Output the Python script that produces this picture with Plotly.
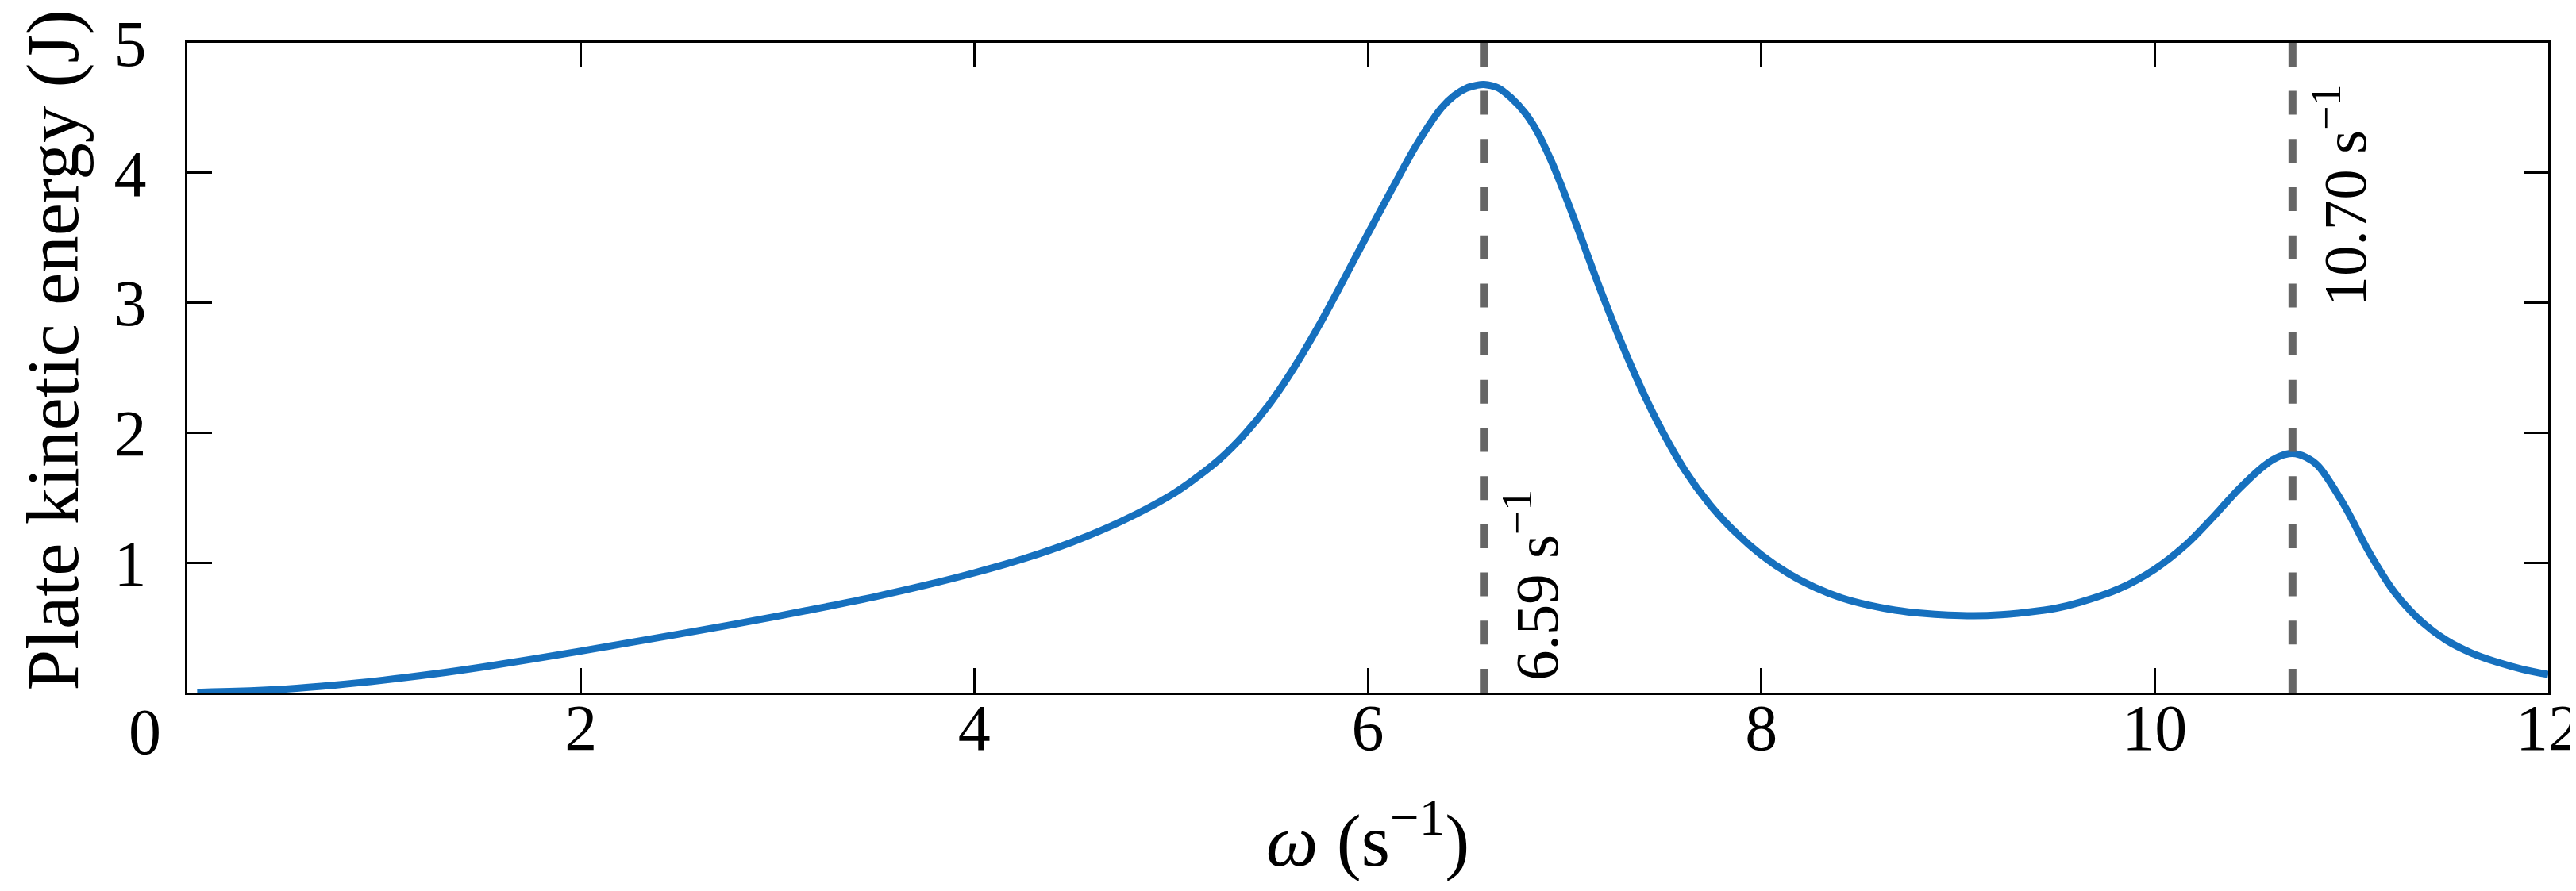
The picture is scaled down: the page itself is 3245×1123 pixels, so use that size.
import plotly.graph_objects as go

# ---- data ----
omega = [0.05, 0.25, 0.5, 0.75, 1.0, 1.25, 1.5, 1.75, 2.0, 2.25, 2.5, 2.75, 3.0,
         3.25, 3.5, 3.75, 4.0, 4.25, 4.5, 4.75, 5.0, 5.125, 5.25, 5.375, 5.5,
         5.625, 5.75, 5.875, 6.0, 6.125, 6.25, 6.375, 6.44, 6.5, 6.55, 6.59,
         6.66, 6.73, 6.80, 6.86, 6.93, 7.0, 7.07, 7.2, 7.34, 7.47, 7.61, 7.74,
         7.875, 8.0, 8.14, 8.28, 8.41, 8.55, 8.68, 8.82, 8.95, 9.08, 9.22, 9.35,
         9.5, 9.62, 9.82, 10.0, 10.16, 10.29, 10.43, 10.56, 10.63, 10.70, 10.77,
         10.83, 10.96, 11.09, 11.22, 11.35, 11.48, 11.61, 11.74, 11.87, 12.0]
energy = [0.003, 0.01, 0.028, 0.058, 0.097, 0.143, 0.197, 0.257, 0.32, 0.385,
          0.451, 0.518, 0.588, 0.662, 0.74, 0.826, 0.922, 1.03, 1.16, 1.32, 1.52,
          1.65, 1.80, 1.99, 2.22, 2.50, 2.82, 3.17, 3.53, 3.88, 4.22, 4.50,
          4.595, 4.65, 4.672, 4.68, 4.655, 4.575, 4.46, 4.32, 4.10, 3.84, 3.56,
          3.03, 2.51, 2.09, 1.715, 1.445, 1.225, 1.06, 0.915, 0.805, 0.728, 0.672,
          0.635, 0.61, 0.597, 0.592, 0.600, 0.618, 0.65, 0.695, 0.80, 0.95, 1.14,
          1.34, 1.57, 1.75, 1.815, 1.84, 1.81, 1.745, 1.45, 1.08, 0.77, 0.555,
          0.405, 0.305, 0.235, 0.18, 0.14]
peak_freqs = [6.59, 10.70]
x_ticks = [2, 4, 6, 8, 10, 12]
y_ticks = [1, 2, 3, 4, 5]
x_range = [0, 12]
y_range = [0, 5]

# ---- style ----
FONT = "Liberation Serif, Times New Roman, Times, serif"
TICK_SIZE = 82
TITLE_SIZE = 93
ANN_SIZE = 77
label_bottoms = [0.08, 2.96]   # where the rotated peak labels start (data units)

fig = go.Figure()

fig.add_trace(go.Scatter(
    x=omega, y=energy, mode="lines",
    line=dict(color="#1670BE", width=9, shape="spline", smoothing=1.0),
    showlegend=False, hoverinfo="skip"))

for f in peak_freqs:
    fig.add_trace(go.Scatter(
        x=[f, f], y=y_range, mode="lines",
        line=dict(color="#666666", width=10, dash="30px,30.7px"),
        showlegend=False, hoverinfo="skip"))

annotations = []
for f, yb in zip(peak_freqs, label_bottoms):
    annotations.append(dict(
        x=f, y=yb, xref="x", yref="y",
        text=f"{f:.2f} s<sup>\u22121</sup>",
        textangle=-90, showarrow=False,
        xanchor="left", yanchor="bottom", xshift=10,
        font=dict(family=FONT, size=ANN_SIZE, color="black")))

# the lone "0" label at the lower-left corner
annotations.append(dict(
    x=0, y=0, xref="paper", yref="paper", text="0", showarrow=False,
    xanchor="center", yanchor="middle", xshift=-54, yshift=-49,
    font=dict(family=FONT, size=TICK_SIZE, color="black")))

# y-axis title
annotations.append(dict(
    x=0, y=0.5, xref="paper", yref="paper", text="Plate kinetic energy (J)",
    textangle=-90, showarrow=False, xanchor="center", yanchor="middle",
    xshift=-170, yshift=22,
    font=dict(family=FONT, size=TITLE_SIZE, color="black")))

fig.update_layout(
    width=3245, height=1123,
    margin=dict(l=228, r=43, t=46, b=258),
    paper_bgcolor="white", plot_bgcolor="white",
    font=dict(family=FONT, size=TICK_SIZE, color="black"),
    annotations=annotations,
)

fig.update_xaxes(
    range=x_range, tickvals=x_ticks, ticktext=[str(v) for v in x_ticks],
    ticks="inside", ticklen=31, tickwidth=3, tickcolor="black",
    showline=True, linewidth=3, linecolor="black", mirror="ticks",
    showgrid=False, zeroline=False, ticklabeloverflow="allow",
    automargin=False,
    tickfont=dict(family=FONT, size=TICK_SIZE, color="black"),
    ticklabelstandoff=-29,
    title=dict(text="<i>\u03c9</i> (s<sup>\u22121</sup>)",
               font=dict(family=FONT, size=TITLE_SIZE, color="black"),
               standoff=64),
)
fig.update_yaxes(
    range=y_range, tickvals=y_ticks, ticktext=[str(v) for v in y_ticks],
    ticks="inside", ticklen=31, tickwidth=3, tickcolor="black",
    showline=True, linewidth=3, linecolor="black", mirror="ticks",
    showgrid=False, zeroline=False, ticklabeloverflow="allow",
    automargin=False,
    tickfont=dict(family=FONT, size=TICK_SIZE, color="black"),
    ticklabelstandoff=32,
)

fig.write_html("out.html")
